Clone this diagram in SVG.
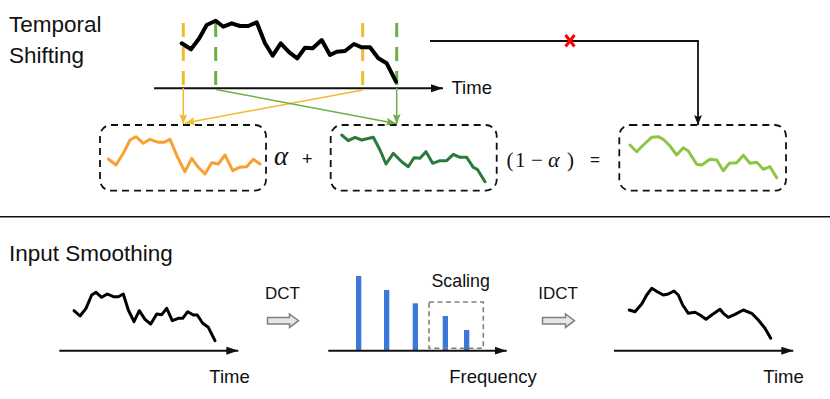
<svg xmlns="http://www.w3.org/2000/svg" width="830" height="399" viewBox="0 0 830 399">
<defs>
<style>
.lbl{font-family:"Liberation Sans",Arial,sans-serif;fill:#111}
.math{font-family:"Liberation Serif","DejaVu Serif",serif;fill:#111}
.curve{fill:none;stroke-linejoin:round;stroke-linecap:round}
.box{fill:none;stroke:#111;stroke-width:1.8;stroke-dasharray:7 5}
.axis{stroke:#111;stroke-width:2;fill:none}
.bar{fill:#3C78D8}
.blk{fill:#E6E6E6;stroke:#7F7F7F;stroke-width:1.5}
.dash{stroke-width:3;stroke-dasharray:14 10}
</style>
<marker id="ab" markerUnits="userSpaceOnUse" markerWidth="12" markerHeight="8" refX="12" refY="4" orient="auto"><path d="M0,0 L12,4 L0,8 z" fill="#111"/></marker>
<marker id="ay" markerUnits="userSpaceOnUse" markerWidth="10" markerHeight="8" refX="10" refY="4" orient="auto"><path d="M0,0 L10,4 L0,8 L2,4 z" fill="#F2BA2F"/></marker>
<marker id="ag" markerUnits="userSpaceOnUse" markerWidth="10" markerHeight="8" refX="10" refY="4" orient="auto"><path d="M0,0 L10,4 L0,8 L2,4 z" fill="#6FAD47"/></marker>
<marker id="ak" markerUnits="userSpaceOnUse" markerWidth="10" markerHeight="8" refX="10" refY="4" orient="auto"><path d="M0,0 L10,4 L0,8 L2,4 z" fill="#111"/></marker>
</defs>
<rect width="830" height="399" fill="#fff"/>

<g id="title-temporal">
<text class="lbl" x="9" y="32.3" font-size="22.5">Temporal</text>
<text class="lbl" x="9" y="63.3" font-size="22.5">Shifting</text>
</g>

<g id="top-series">
<line class="dash" x1="183.3" y1="23" x2="183.3" y2="88" stroke="#F2BA2F"/>
<line class="dash" x1="215.7" y1="23" x2="215.7" y2="88" stroke="#6FAD47"/>
<line class="dash" x1="362.7" y1="23" x2="362.7" y2="88" stroke="#F2BA2F"/>
<line class="dash" x1="396.7" y1="23" x2="396.7" y2="88" stroke="#6FAD47"/>
<polyline class="curve" stroke="#000" stroke-width="4" points="181.7,43.3 191,49.3 199.3,38.3 206.7,25 215.7,20.7 223.3,26.7 231.7,23.3 240,26 248.3,26 256.7,22.3 265,43.3 272.7,55.7 280.7,43.3 289.3,52.3 297.3,58.3 305,47.7 312.7,48.3 321.7,40 330,55 336.7,51.7 345,51 354,44 361.7,47.3 370,47.3 378.3,58.3 386.7,63.3 396,81.7"/>
<line class="axis" x1="154" y1="88.3" x2="443" y2="88.3" marker-end="url(#ab)"/>
<text class="lbl" x="451.5" y="94" font-size="18.5">Time</text>
</g>

<g id="box-orange">
<rect class="box" x="100" y="125" width="166" height="65.7" rx="11"/>
<polyline class="curve" stroke="#F7A135" stroke-width="3" points="108.3,159 116,165 123.3,153.3 130,140 136,136.7 143.3,143.3 150,139.3 158.3,142.3 164,142.3 170,139.3 177.3,156.7 185,171.7 191.7,158.3 198.3,167.3 205,174 211.7,162.7 218.3,164 225,155 232.7,170.7 239.3,167.3 246.7,166.7 253.3,159.3 260,164"/>
</g>

<g id="box-darkgreen">
<rect class="box" x="330.7" y="125" width="166" height="65.7" rx="11"/>
<polyline class="curve" stroke="#2A7A3B" stroke-width="3" points="341.7,135 348.3,140.7 355,137.3 361.7,140 373.3,137.3 380,150 386,164 393.3,153.3 401.7,161.7 408.3,166.7 414,157.7 420,158.3 426,151.7 432.7,163.3 440,160.7 446.7,160.7 453.3,154.3 460,157.3 466.7,157.3 473.3,167.3 477.3,169.3 485,181.7"/>
</g>

<g id="box-result">
<rect class="box" x="619.3" y="125" width="166.7" height="65.7" rx="11"/>
<polyline class="curve" stroke="#8DC545" stroke-width="3" points="630,145 636.7,151.7 643.3,145 651.7,137.3 658.3,136.7 663.3,139.3 670,146 676.7,155 683.3,147.7 688.3,151 696.7,164.3 701.7,165 710,159.3 716.7,160 723.3,170.7 729.3,163.3 736.7,162.7 743.3,155.3 750,163.3 756.7,162.3 763.3,169.3 770,166.7 776.7,177.7"/>
</g>

<g id="equation">
<text class="math" x="274" y="165" font-size="27" font-style="italic">α</text>
<text class="lbl" x="302" y="165" font-size="18">+</text>
<text class="math" x="506.5" y="167" font-size="21">(</text>
<text class="math" x="515" y="167" font-size="21">1</text>
<text class="math" x="531" y="167" font-size="21">−</text>
<text class="math" x="548" y="167" font-size="22" font-style="italic">α</text>
<text class="math" x="567" y="167" font-size="21">)</text>
<text class="lbl" x="590" y="164.5" font-size="17">=</text>
</g>

<g id="connectors">
<line x1="183.3" y1="88" x2="183.3" y2="124" stroke="#F2BA2F" stroke-width="1.5" marker-end="url(#ay)"/>
<line x1="362.7" y1="90" x2="185" y2="123" stroke="#F2BA2F" stroke-width="1.5" marker-end="url(#ay)"/>
<line x1="215.7" y1="89.5" x2="396" y2="123.5" stroke="#6FAD47" stroke-width="1.5" marker-end="url(#ag)"/>
<line x1="396.7" y1="88" x2="396.7" y2="124" stroke="#6FAD47" stroke-width="1.5" marker-end="url(#ag)"/>
<polyline points="430,41 698,41 698,125" fill="none" stroke="#111" stroke-width="1.8" marker-end="url(#ak)"/>
<path d="M565.5,35 L574.5,46.5 M574.5,35 L565.5,46.5" stroke="#F00" stroke-width="3" fill="none"/>
</g>

<line id="separator" x1="0" y1="216.7" x2="830" y2="216.7" stroke="#111" stroke-width="1.5"/>

<g id="title-smoothing">
<text class="lbl" x="9" y="260.7" font-size="22.5">Input Smoothing</text>
</g>

<g id="input-series">
<polyline class="curve" stroke="#000" stroke-width="3" points="74,310.7 80,316 86,308.3 91.7,295 96,292.3 101.7,297.3 107.3,294 113.3,296.7 118.3,296.7 123.3,294 128.3,310 134,321.7 139.3,310.7 145,319.3 150.7,324 156.7,314 161.7,314.7 166.7,308.3 172.3,320.7 178.3,318.3 182.7,318.3 187.7,311.7 193.3,315 197.3,315 202.7,323.3 208.3,327.3 215,340.7"/>
<line class="axis" x1="59.3" y1="350.7" x2="238.3" y2="350.7" marker-end="url(#ab)"/>
<text class="lbl" x="209.3" y="383.3" font-size="18.5">Time</text>
</g>

<g id="dct">
<text class="lbl" x="265" y="299" font-size="17">DCT</text>
<path class="blk" d="M267.5,317.5 H289.5 V314 L298.5,320.7 L289.5,327.4 V324 H267.5 Z"/>
</g>

<g id="spectrum">
<rect class="bar" x="356" y="276" width="5.3" height="74.7"/>
<rect class="bar" x="384" y="290" width="5.3" height="60.7"/>
<rect class="bar" x="412.7" y="303.3" width="5.3" height="47.4"/>
<rect class="bar" x="442.7" y="316" width="5.3" height="34.7"/>
<rect class="bar" x="464" y="330" width="5.3" height="20.7"/>
<rect x="429" y="302" width="54.3" height="46.3" fill="none" stroke="#7F7F7F" stroke-width="1.6" stroke-dasharray="5 3.5"/>
<line class="axis" x1="328.3" y1="350.7" x2="506.7" y2="350.7" marker-end="url(#ab)"/>
<text class="lbl" x="431.5" y="287.3" font-size="17.8">Scaling</text>
<text class="lbl" x="449.3" y="383.3" font-size="18.5">Frequency</text>
</g>

<g id="idct">
<text class="lbl" x="538.3" y="299" font-size="17">IDCT</text>
<path class="blk" d="M542.5,317.5 H565.5 V314 L574.5,320.7 L565.5,327.4 V324 H542.5 Z"/>
</g>

<g id="smoothed-series">
<polyline class="curve" stroke="#000" stroke-width="3" points="629.3,310 635,311.7 641.7,304 646.7,295 651.7,288.3 657.3,291.7 663.3,295 668.3,294 674,291 678.3,295 682.7,305 688.3,313.3 695,312.3 700,315 706,319.3 711.7,315 720,309.3 723.3,313.3 728.3,317.3 735,314.3 743.3,310 751.7,313.3 758.3,320 765,328.3 770.7,338.3"/>
<line class="axis" x1="614" y1="350.7" x2="793.3" y2="350.7" marker-end="url(#ab)"/>
<text class="lbl" x="763.3" y="383.3" font-size="18.5">Time</text>
</g>
</svg>
